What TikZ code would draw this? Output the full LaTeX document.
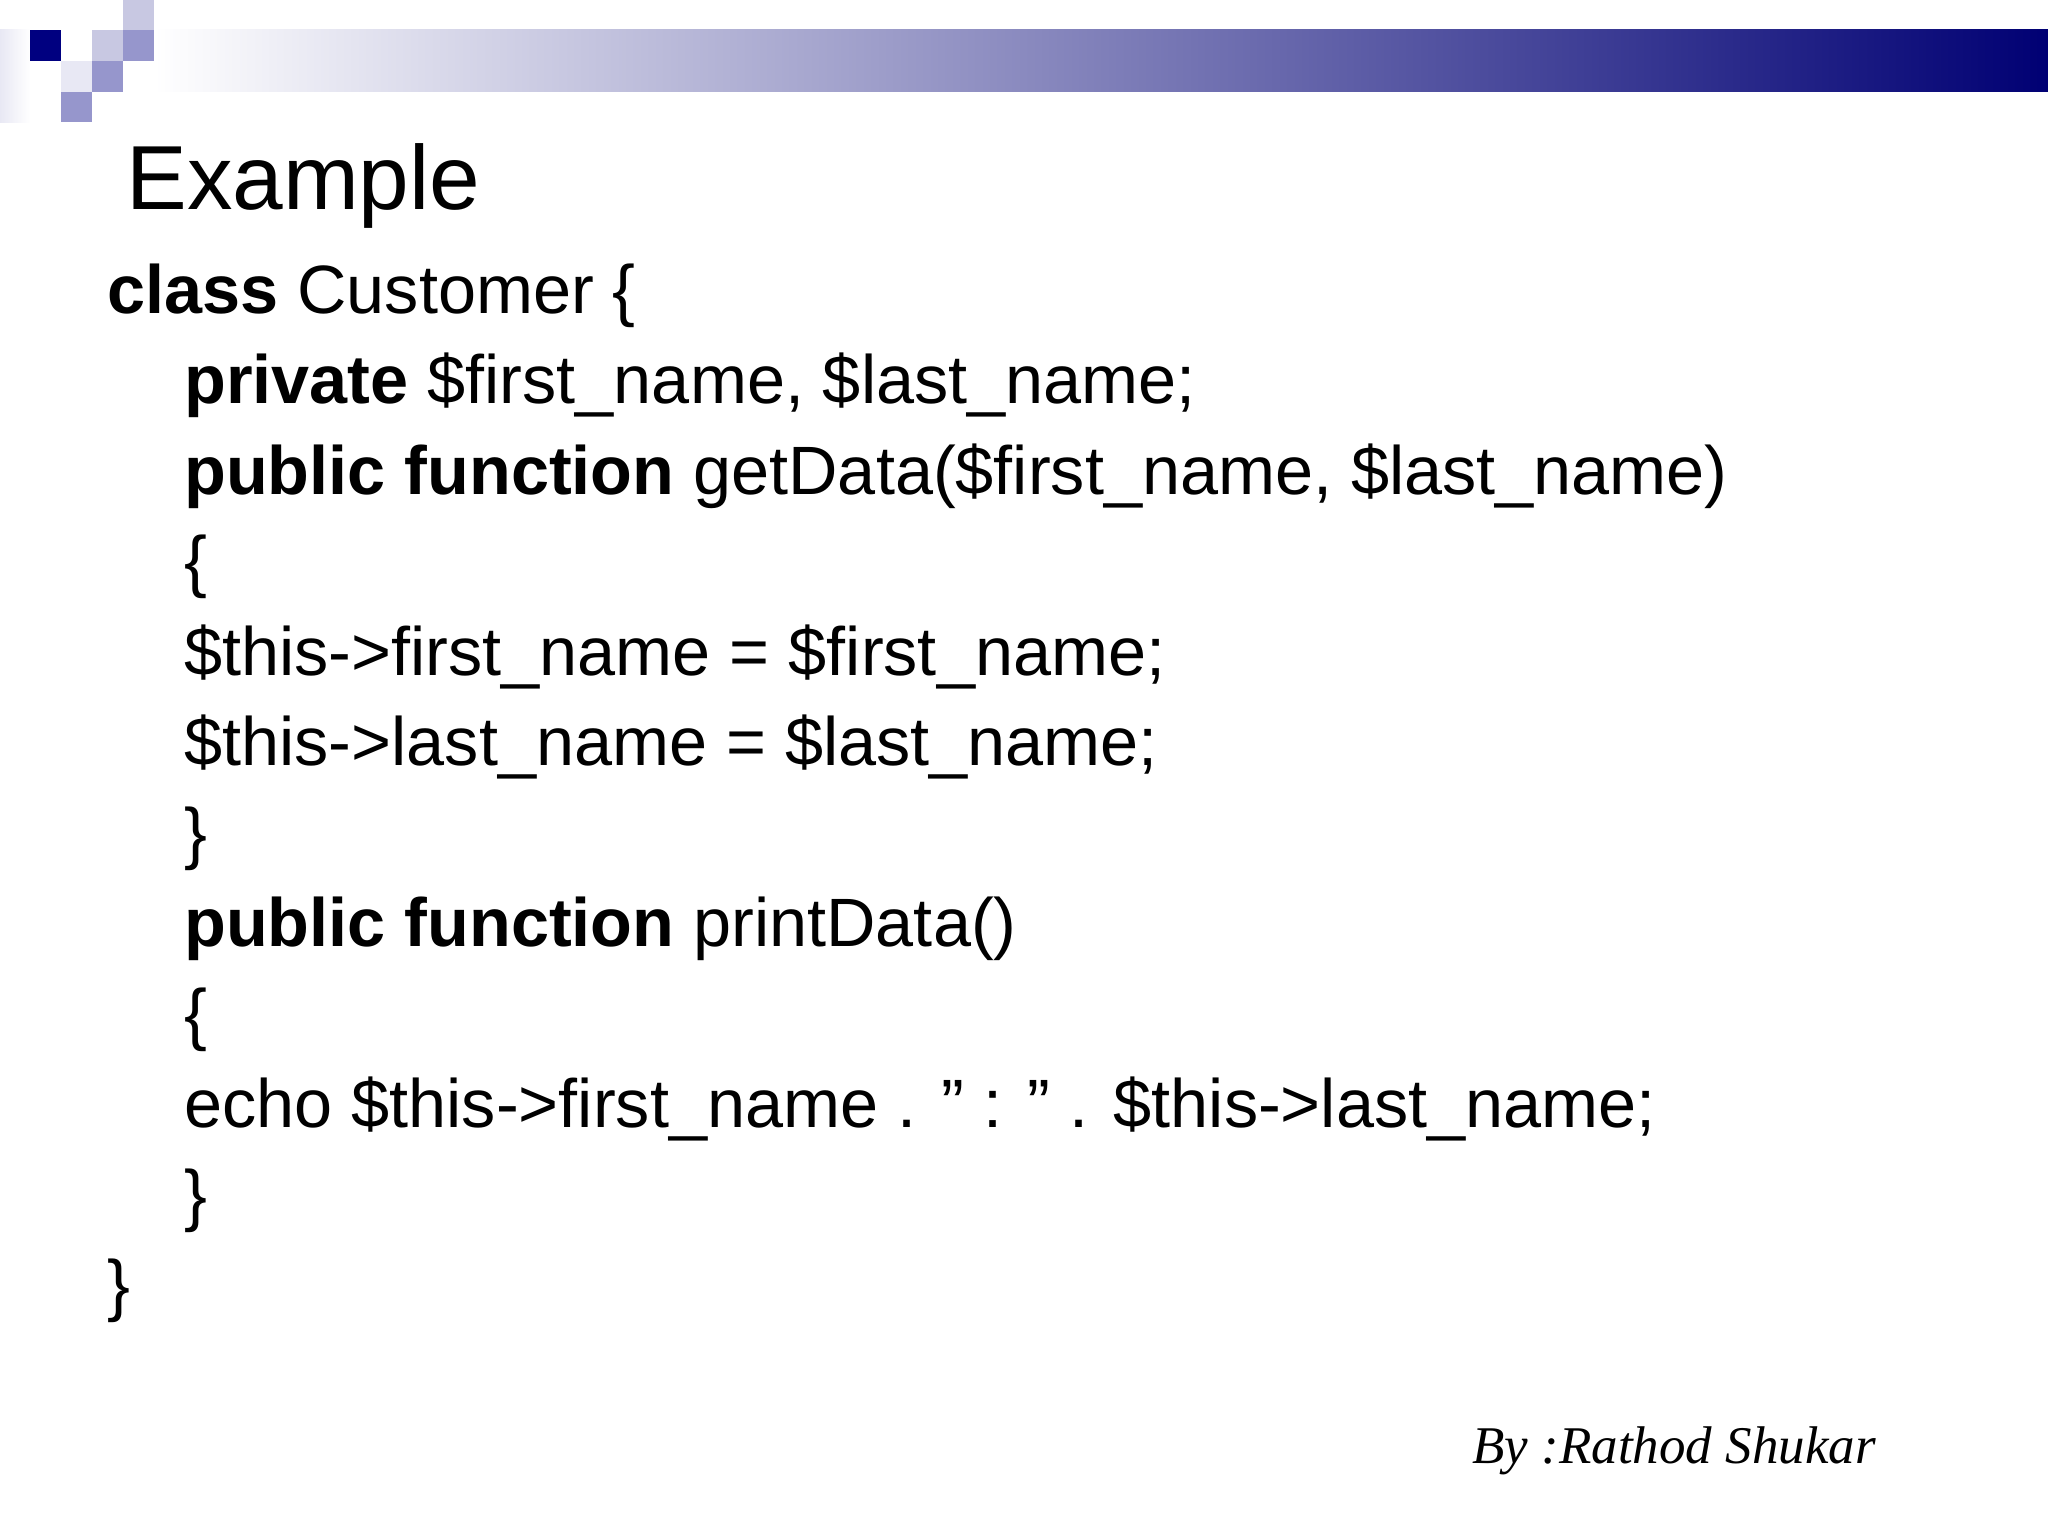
\documentclass[tikz,border=0pt]{standalone}
\usepackage{fontspec}
\setmainfont{Liberation Sans}
\newfontfamily\sigfont{Liberation Serif}
\definecolor{navy}{RGB}{0,0,128}
\definecolor{lav1}{RGB}{200,200,226}
\definecolor{lav2}{RGB}{150,150,204}
\definecolor{lav3}{RGB}{232,232,244}
\begin{document}
\begin{tikzpicture}[x=0.5pt,y=-0.5pt,
  code/.style={anchor=base west,inner sep=0pt,font=\fontsize{34.2}{36}\selectfont},
  sq/.style={draw=none}]
\useasboundingbox (0,0) rectangle (2048,1536);
\fill[white] (0,0) rectangle (2048,1536);
% header
\shade[left color=lav3,right color=white] (0,30) rectangle (30,122);
\shade[left color=white,right color=navy!90!black] (154,30) rectangle (2048,92);
\fill[navy] (30,30) rectangle (61,61);
\fill[lav1] (123,0) rectangle (154,30);
\fill[lav1] (92,30) rectangle (123,61);
\fill[lav2] (123,30) rectangle (154,61);
\fill[lav3] (61,61) rectangle (92,92);
\fill[lav2] (92,61) rectangle (123,92);
\fill[lav2] (61,92) rectangle (92,122);
% title
\node[code,font=\fontsize{45.5}{47}\selectfont] (title) at (126,209) {Example};
% code
\node[code] (l1) at (107,313) {\textbf{class} Customer \{};
\node[code] (l2) at (184,403) {\textbf{private} \$first\_name, \$last\_name;};
\node[code] (l3) at (184,494) {\textbf{public function} getData(\$first\_name, \$last\_name)};
\node[code] (l4) at (184,584) {\{};
\node[code] (l5) at (184,675) {\$this->first\_name = \$first\_name;};
\node[code] (l6) at (184,765) {\$this->last\_name = \$last\_name;};
\node[code] (l7) at (184,856) {\}};
\node[code] (l8) at (184,946) {\textbf{public function} printData()};
\node[code] (l9) at (184,1037) {\{};
\node[code] (l10) at (184,1127) {echo \$this->first\_name . \symbol{34} : \symbol{34} . \$this->last\_name;};
\node[code] (l11) at (184,1218) {\}};
\node[code] (l12) at (107,1308) {\}};
\node[code,font=\sigfont\itshape\fontsize{26.5}{30}\selectfont] (by) at (1472,1463) {By :Rathod Shukar};
\end{tikzpicture}
\end{document}
